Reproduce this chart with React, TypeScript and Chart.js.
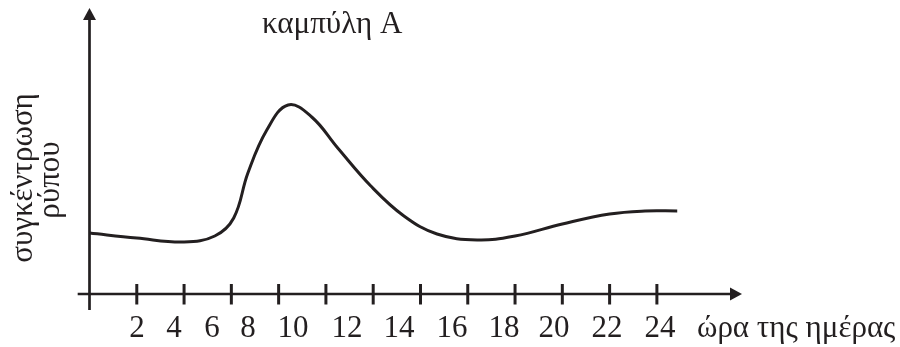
import React, { useEffect, useRef } from 'react';
import { Chart, registerables } from 'chart.js';

Chart.register(...registerables);

// ---- data ----
const hours = [0, 2, 4, 5.3, 6.1, 6.7, 7.5, 8.4, 9.4, 10.5, 11.9, 13.3, 14.7, 16.4, 18.0, 20.0, 22.0, 23.5, 24.86];
const levels = [6.1, 5.6, 5.2, 5.8, 7.6, 12.1, 16.4, 18.9, 17.7, 14.6, 10.8, 7.8, 6.0, 5.4, 5.8, 7.0, 8.0, 8.3, 8.3];

const tickHours = [2, 4, 6, 8, 10, 12, 14, 16, 18, 20, 22, 24];
const tickLabels = ['2', '4', '6', '8', '10', '12', '14', '16', '18', '20', '22', '24'];

const chartTitle = 'καμπύλη Α';
const xTitle = 'ώρα της ημέρας';
const yTitleLines = ['συγκέντρωση', 'ρύπου'];

// ---- layout (not data) ----
const tickLabelAt = [2.01, 3.57, 5.18, 6.7, 8.61, 10.89, 13.09, 15.33, 17.53, 19.65, 21.89, 24.13];
const X_MIN = -0.5;
const X_MAX = 27.6;
const Y_MIN = -1.6;
const Y_MAX = 28.6;

const INK = '#231f20';
const FONT = '31px "Liberation Serif", "Times New Roman", serif';

const axesPlugin = {
  id: 'handDrawnAxes',
  afterDraw(chart: any) {
    const { ctx, scales } = chart;
    const xs = scales.x;
    const ys = scales.y;
    const X = (v: number) => xs.getPixelForValue(v);
    const Y = (v: number) => ys.getPixelForValue(v);
    const y0 = Y(0);
    const x0 = X(0);
    ctx.save();
    ctx.strokeStyle = INK;
    ctx.fillStyle = INK;
    ctx.lineWidth = 2.7;
    ctx.lineCap = 'butt';

    // x axis with arrow
    const xTip = X(X_MAX);
    ctx.beginPath();
    ctx.moveTo(X(X_MIN), y0);
    ctx.lineTo(xTip - 10, y0);
    ctx.stroke();
    ctx.beginPath();
    ctx.moveTo(xTip, y0);
    ctx.lineTo(xTip - 12, y0 - 6.5);
    ctx.lineTo(xTip - 12, y0 + 6.5);
    ctx.closePath();
    ctx.fill();

    // y axis with arrow
    const yTip = Y(Y_MAX);
    ctx.beginPath();
    ctx.moveTo(x0, Y(Y_MIN));
    ctx.lineTo(x0, yTip + 10);
    ctx.stroke();
    ctx.beginPath();
    ctx.moveTo(x0, yTip);
    ctx.lineTo(x0 - 6.5, yTip + 12);
    ctx.lineTo(x0 + 6.5, yTip + 12);
    ctx.closePath();
    ctx.fill();

    // tick crosses
    ctx.lineWidth = 3;
    tickHours.forEach((h) => {
      const px = X(h);
      ctx.beginPath();
      ctx.moveTo(px, y0 - 10);
      ctx.lineTo(px, y0 + 10.5);
      ctx.stroke();
    });

    // tick labels
    ctx.font = FONT;
    ctx.textBaseline = 'alphabetic';
    ctx.textAlign = 'center';
    tickLabels.forEach((t, i) => {
      ctx.fillText(t, X(tickLabelAt[i]), y0 + 43);
    });

    // x axis title
    ctx.textAlign = 'left';
    ctx.fillText(xTitle, 697, y0 + 43);

    // chart title
    ctx.fillText(chartTitle, 262, 33);

    // y axis title (rotated)
    ctx.textAlign = 'center';
    ctx.save();
    ctx.translate(32, 178);
    ctx.rotate(-Math.PI / 2);
    ctx.fillText(yTitleLines[0], 0, 0);
    ctx.restore();
    ctx.save();
    ctx.translate(59, 180);
    ctx.rotate(-Math.PI / 2);
    ctx.fillText(yTitleLines[1], 0, 0);
    ctx.restore();

    ctx.restore();
  },
};

export default function App() {
  const canvasRef = useRef<HTMLCanvasElement | null>(null);

  useEffect(() => {
    const canvas = canvasRef.current;
    if (!canvas) return;
    const points = hours.map((h, i) => ({ x: h, y: levels[i] }));
    const chart = new Chart(canvas, {
      type: 'scatter',
      data: {
        datasets: [
          {
            data: points,
            showLine: true,
            borderColor: INK,
            borderWidth: 3,
            pointRadius: 0,
            tension: 0.4,
            fill: false,
          },
        ],
      },
      options: {
        animation: false,
        responsive: true,
        maintainAspectRatio: false,
        devicePixelRatio: 1,
        layout: { padding: { left: 77.68, right: 158, top: 8, bottom: 37 } },
        plugins: {
          legend: { display: false },
          tooltip: { enabled: false },
          title: { display: false },
        },
        scales: {
          x: { type: 'linear', min: X_MIN, max: X_MAX, display: false },
          y: { type: 'linear', min: Y_MIN, max: Y_MAX, display: false },
        },
      },
      plugins: [axesPlugin],
    });
    return () => chart.destroy();
  }, []);

  return (
    <div style={{ position: 'fixed', left: 0, top: 0, width: 900, height: 347, background: '#ffffff' }}>
      <canvas ref={canvasRef} />
    </div>
  );
}
